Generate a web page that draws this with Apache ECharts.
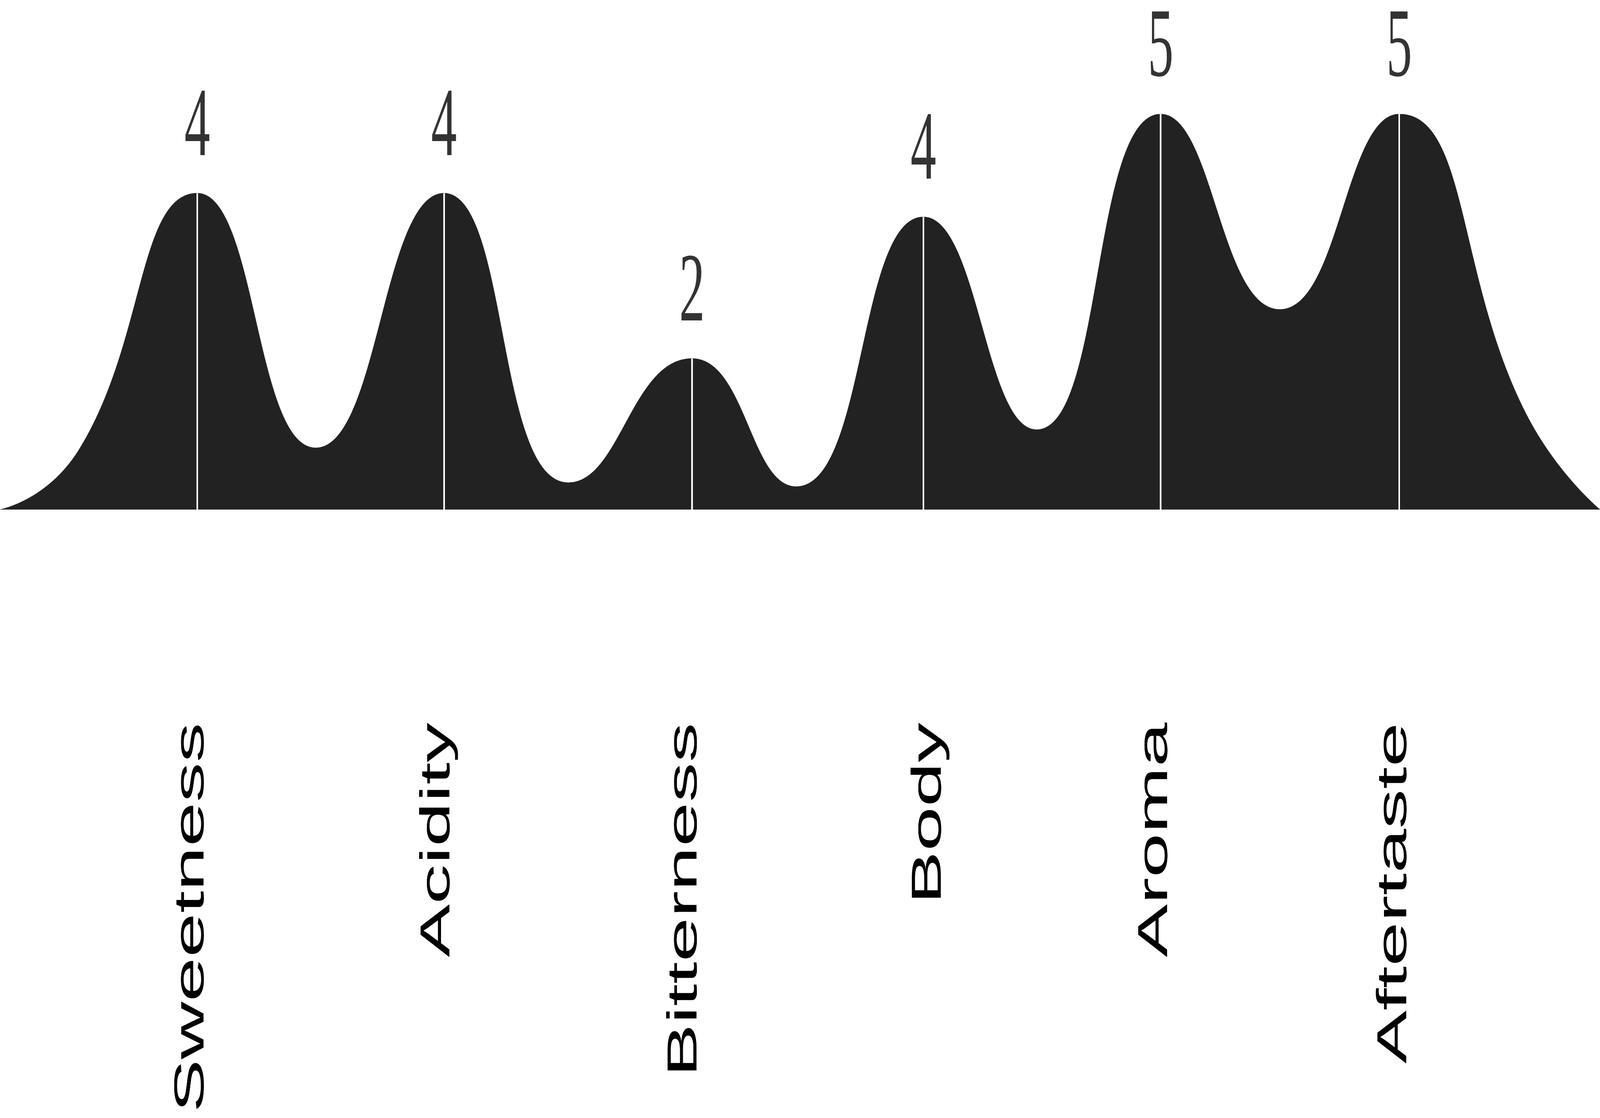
<!DOCTYPE html>
<html>
<head>
<meta charset="utf-8">
<title>Taste profile</title>
<script src="https://cdn.jsdelivr.net/npm/echarts@6.0.0/dist/echarts.min.js"></script>
<style>
  html, body { margin: 0; padding: 0; background: #fff; width: 100%; height: 100%; overflow: hidden; }
  #chart { width: 7801px; height: 2861px; transform-origin: 0 0; }
</style>
</head>
<body>
<div id="chart"></div>
<script>
// categories and printed scores
var categories = ['Sweetness', 'Acidity', 'Bitterness', 'Body', 'Aroma', 'Aftertaste'];
var scores = [4, 4, 2, 4, 5, 5];

// where each category name sits along the axis (% of width)
var labelX = [12.00, 27.36, 42.81, 58.08, 72.22, 87.17];

// peak tops: x as % of width, height in score units
var peakX = [12.33, 27.75, 43.25, 57.71, 72.54, 87.45];
var peakY = [4.00, 4.00, 1.91, 3.70, 5.00, 5.00];

// low points between the peaks
var valleyX = [19.73, 35.52, 49.76, 64.79, 79.99];
var valleyY = [0.78, 0.34, 0.29, 1.01, 2.53];

// tails at both ends
var leftTail = [[0, 0], [4.91, 0.75]];
var rightTail = [[95.36, 1.22], [100, 0]];

// build the outline point list: tail, peak, valley, peak ... tail
function buildCurve() {
  var pts = leftTail.slice();
  for (var i = 0; i < peakX.length; i++) {
    pts.push([peakX[i], peakY[i]]);
    if (i < valleyX.length) {
      pts.push([valleyX[i], valleyY[i]]);
    }
  }
  return pts.concat(rightTail);
}

// the chart is laid out at 7801x2861 and fitted to whatever window we get
var box = document.getElementById('chart');
var sx = window.innerWidth / 7801;
var sy = window.innerHeight / 2861;
if (Math.abs(sx - 1) > 0.001 || Math.abs(sy - 1) > 0.001) {
  box.style.transform = 'scale(' + sx + ',' + sy + ')';
}

var chart = echarts.init(box);

var option = {
  animation: false,
  backgroundColor: '#ffffff',
  grid: {
    left: 0,
    right: 0,
    top: 292,
    bottom: 1557,
    containLabel: false,
    outerBoundsMode: 'none'
  },
  xAxis: {
    type: 'value',
    min: 0,
    max: 100,
    axisLine: { show: false },
    axisTick: { show: false },
    splitLine: { show: false },
    axisLabel: {
      customValues: labelX,
      rotate: 90,
      margin: 545,
      fontSize: 204,
      fontFamily: '"Liberation Sans", Arial, sans-serif',
      color: '#000',
      formatter: function(val){
        var idx = labelX.indexOf(val);
        return idx > -1 ? categories[idx] : '';
      }
    }
  },
  yAxis: {
    type: 'value',
    min: 0,
    max: 5,
    show: false
  },
  series: [
    {
      name: 'profile',
      type: 'line',
      data: buildCurve(),
      smooth: true,
      symbol: 'none',
      lineStyle: { color: '#222222', width: 1 },
      areaStyle: { color: '#222222', opacity: 1 },
      markLine: {
        silent: true,
        symbol: ['none', 'none'],
        label: { show: false },
        lineStyle: { color: '#ffffff', width: 8, type: 'solid' },
        data: peakX.map(function(x, i){
          return [{ coord: [x, 0] }, { coord: [x, peakY[i]] }];
        })
      }
    },
    {
      name: 'score',
      type: 'scatter',
      data: peakX.map(function(x, i){ return [x, peakY[i]]; }),
      symbolSize: 1,
      itemStyle: { color: '#222222' },
      silent: true,
      label: {
        show: true,
        position: 'top',
        distance: 38,
        fontSize: 250,
        fontFamily: '"Liberation Serif", serif',
        color: '#000',
        formatter: function(p){ return String(scores[p.dataIndex]); }
      }
    }
  ]
};

chart.setOption(option);
</script>
</body>
</html>
